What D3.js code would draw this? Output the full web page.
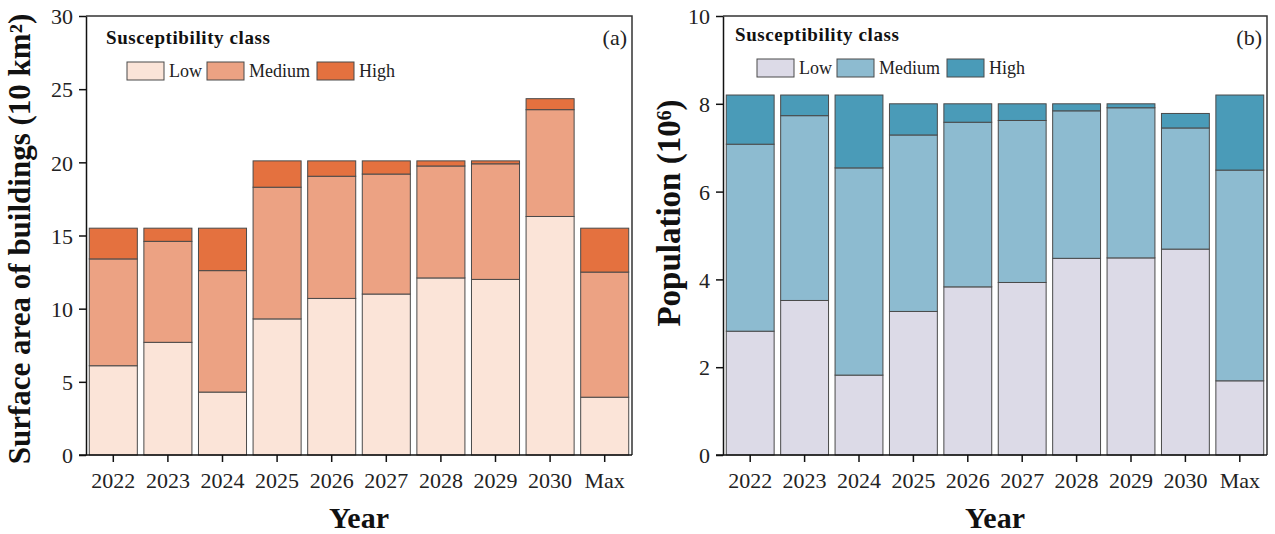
<!DOCTYPE html>
<html>
<head>
<meta charset="utf-8">
<script src="https://cdn.jsdelivr.net/npm/d3@7"></script>
<style>
  body { margin: 0; background: #fff; }
  svg { display: block; font-family: "Liberation Serif", "Times New Roman", serif; }
</style>
</head>
<body>
<svg></svg>
<script>
// Categories and class names
const years = ["2022", "2023", "2024", "2025", "2026", "2027", "2028", "2029", "2030", "Max"];
const classes = ["Low", "Medium", "High"];

// (a) surface area of buildings, 10 km2 (segment heights)
const areaLow = [6.1, 7.7, 4.3, 9.3, 10.7, 11.0, 12.1, 12.0, 16.3, 3.95];
const areaMedium = [7.3, 6.9, 8.3, 9.0, 8.35, 8.2, 7.65, 7.9, 7.3, 8.55];
const areaHigh = [2.1, 0.9, 2.9, 1.8, 1.05, 0.9, 0.35, 0.2, 0.75, 3.0];

// (b) population, 10^6 (segment heights)
const popLow = [2.82, 3.52, 1.82, 3.27, 3.83, 3.93, 4.48, 4.49, 4.69, 1.69];
const popMedium = [4.26, 4.21, 4.72, 4.02, 3.75, 3.69, 3.36, 3.42, 2.76, 4.80];
const popHigh = [1.12, 0.47, 1.66, 0.71, 0.42, 0.38, 0.16, 0.09, 0.33, 1.71];

const areaTicks = [0, 5, 10, 15, 20, 25, 30];
const popTicks = [0, 2, 4, 6, 8, 10];

const width = 1275;
const height = 534;

const svg = d3.select("svg")
  .attr("width", width)
  .attr("height", height);

function drawPanel(p) {
  const rows = years.map((yr, i) => ({ year: yr, Low: p.low[i], Medium: p.medium[i], High: p.high[i] }));
  const series = d3.stack().keys(classes)(rows);

  const x = d3.scaleBand()
    .domain(years)
    .range([p.left, p.right])
    .paddingInner(0.12)
    .paddingOuter(0.06);

  const y = d3.scaleLinear()
    .domain([0, p.max])
    .range([p.bottom, p.top]);

  const color = d3.scaleOrdinal().domain(classes).range(p.colors);

  const g = svg.append("g");

  // bars
  g.selectAll(".layer")
    .data(series)
    .enter()
    .append("g")
    .attr("fill", d => color(d.key))
    .selectAll("rect")
    .data(d => d)
    .enter()
    .append("rect")
    .attr("x", d => x(d.data.year))
    .attr("y", d => y(d[1]))
    .attr("width", x.bandwidth())
    .attr("height", d => y(d[0]) - y(d[1]))
    .attr("stroke", "#4a4a4a")
    .attr("stroke-width", 1);

  // frame top / right
  g.append("path")
    .attr("d", `M${p.left},${p.top}H${p.right}V${p.bottom}`)
    .attr("fill", "none")
    .attr("stroke", "#333")
    .attr("stroke-width", 1.5);

  // axes
  const xAxis = g.append("g")
    .attr("transform", `translate(0,${p.bottom})`)
    .call(d3.axisBottom(x).tickSize(7).tickSizeOuter(0).tickPadding(6));

  const yAxis = g.append("g")
    .attr("transform", `translate(${p.left},0)`)
    .call(d3.axisLeft(y).tickValues(p.ticks).tickSize(7).tickSizeOuter(0).tickPadding(6));

  [xAxis, yAxis].forEach(a => {
    a.select(".domain").attr("stroke", "#111").attr("stroke-width", 1.5);
    a.selectAll(".tick line").attr("stroke", "#111").attr("stroke-width", 1.5);
    a.selectAll("text")
      .attr("fill", "#222")
      .style("font-family", "'Liberation Serif', 'Times New Roman', serif")
      .style("font-size", "22px");
  });
  xAxis.selectAll("text").attr("dy", "0.9em");
  yAxis.selectAll("text").attr("dy", "0.35em");
  // extend bottom axis line to the outer tick position
  xAxis.select(".domain").attr("d", `M${p.left - 7},0H${p.right}`);

  // axis titles
  svg.append("text")
    .attr("x", (p.left + p.right) / 2)
    .attr("y", 528)
    .attr("text-anchor", "middle")
    .style("font-size", "30px")
    .style("font-weight", "bold")
    .attr("fill", "#111")
    .text("Year");

  svg.append("text")
    .attr("transform", `translate(${p.ytitleX},${p.ytitleY}) rotate(-90)`)
    .attr("text-anchor", "middle")
    .style("font-size", p.ytitleSize)
    .style("font-weight", "bold")
    .attr("fill", "#111")
    .text(p.ytitle);

  // panel tag
  svg.append("text")
    .attr("x", p.right - 5)
    .attr("y", 45)
    .attr("text-anchor", "end")
    .style("font-size", "22px")
    .attr("fill", "#222")
    .text(p.tag);

  // legend
  svg.append("text")
    .attr("x", p.legX)
    .attr("y", p.legY)
    .style("font-size", "19px")
    .style("font-weight", "bold")
    .style("letter-spacing", "0.6px")
    .attr("fill", "#111")
    .text("Susceptibility class");

  const legItems = svg.append("g")
    .selectAll("g")
    .data(classes)
    .enter()
    .append("g")
    .attr("transform", (d, i) => `translate(${p.swatchX[i]},${p.legY + 18})`);

  legItems.append("rect")
    .attr("width", 37)
    .attr("height", 18)
    .attr("fill", d => color(d))
    .attr("stroke", "#4a4a4a")
    .attr("stroke-width", 1);

  legItems.append("text")
    .attr("x", 42)
    .attr("y", 15)
    .style("font-size", "18px")
    .attr("fill", "#222")
    .text(d => d);
}

drawPanel({
  low: areaLow, medium: areaMedium, high: areaHigh,
  left: 86, right: 632, top: 16, bottom: 455, max: 30, ticks: areaTicks,
  colors: ["#fbe4d8", "#eca283", "#e4713f"],
  ytitle: "Surface area of buildings (10 km\u00b2)", ytitleX: 30, ytitleY: 239, ytitleSize: "31px",
  tag: "(a)",
  legX: 106, legY: 44, swatchX: [127, 207, 317]
});

drawPanel({
  low: popLow, medium: popMedium, high: popHigh,
  left: 723, right: 1267, top: 16, bottom: 455, max: 10, ticks: popTicks,
  colors: ["#dcdae7", "#8dbbd0", "#4a9bb8"],
  ytitle: "Population (10\u2076)", ytitleX: 680, ytitleY: 213, ytitleSize: "33px",
  tag: "(b)",
  legX: 735, legY: 41, swatchX: [757, 837, 947]
});
</script>
</body>
</html>
